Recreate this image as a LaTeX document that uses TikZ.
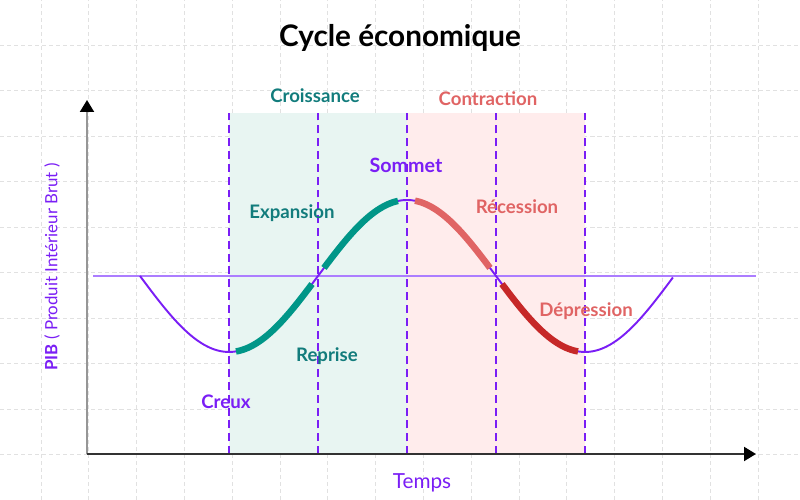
\documentclass[tikz,border=0pt]{standalone}
\usepackage{fontspec}
\setmainfont{Lato}
\usepackage{tikz}
\usetikzlibrary{arrows.meta}
\definecolor{cyclepurple}{RGB}{122,30,245}
\definecolor{midpurple}{RGB}{172,125,255}
\definecolor{growthteal}{RGB}{0,150,136}
\definecolor{growthtext}{RGB}{18,124,124}
\definecolor{contractred}{RGB}{224,100,100}
\definecolor{depressred}{RGB}{198,40,40}
\definecolor{growthbg}{RGB}{232,245,242}
\definecolor{contractbg}{RGB}{255,236,236}
\definecolor{gridgray}{RGB}{225,225,225}
\definecolor{axisgray}{RGB}{150,150,150}
\definecolor{axisdark}{RGB}{50,50,50}

\begin{document}
\begin{tikzpicture}[scale=1.0,
  phaselabel/.style={font=\fontsize{10.6}{12}\selectfont\bfseries},
  phaseline/.style={cyclepurple,line width=1.1pt,dash pattern=on 4.5pt off 2.8pt},
  thickseg/.style={line width=3.7pt,domain=#1,samples=40}]
  \useasboundingbox (0,0) rectangle (16,10);

  % ── Background grid ──
  \foreach \i in {0,...,15}
    \draw[gridgray,line width=0.5pt,dash pattern=on 2.3pt off 1.7pt] ({0.82+0.956*\i},0) -- ({0.82+0.956*\i},10);
  \foreach \j in {1,...,10}
    \draw[gridgray,line width=0.5pt,dash pattern=on 2.3pt off 1.7pt] (0,{10-0.909*\j}) -- (16,{10-0.909*\j});

  % ── Phase bands ──
  \fill[growthbg] (4.58,0.92) rectangle (8.14,7.74);
  \fill[contractbg] (8.14,0.92) rectangle (11.70,7.74);

  % ── Phase boundaries ──
  \foreach \x in {4.58,6.36,8.14,9.92,11.70}
    \draw[phaseline] (\x,0.92) -- (\x,7.74);

  % ── Axes ──
  \draw[axisgray,line width=1.1pt,-{Triangle[length=0.24cm,width=0.28cm,color=black]}] (1.74,0.92) -- (1.74,8.0);
  \draw[axisdark,line width=1.1pt,-{Triangle[length=0.24cm,width=0.28cm,color=black]}] (1.74,0.92) -- (15.12,0.92);

  % ── Trend line ──
  \draw[midpurple,line width=0.8pt] (1.86,4.48) -- (15.12,4.48);

  % ── Business cycle ──
  \draw[cyclepurple,line width=1.1pt,domain=2.8:13.46,samples=160]
       plot (\x,{4.48-1.52*cos(180*(\x-4.58)/3.56)});
  \draw[growthteal,thickseg=4.72:6.24] plot (\x,{4.48-1.52*cos(180*(\x-4.58)/3.56)});
  \draw[growthteal,thickseg=6.48:7.96] plot (\x,{4.48-1.52*cos(180*(\x-4.58)/3.56)});
  \draw[contractred,thickseg=8.30:9.80] plot (\x,{4.48-1.52*cos(180*(\x-4.58)/3.56)});
  \draw[depressred,thickseg=10.04:11.56] plot (\x,{4.48-1.52*cos(180*(\x-4.58)/3.56)});

  % ── Labels ──
  \node[font=\fontsize{16.9}{19}\selectfont\bfseries] (title) at (8,9.24) {Cycle économique};
  \node[phaselabel,growthtext] (croissance) at (6.30,8.08) {Croissance};
  \node[phaselabel,contractred] (contraction) at (9.76,8.02) {Contraction};
  \node[phaselabel,cyclepurple,font=\fontsize{11.2}{13}\selectfont\bfseries] (sommet) at (8.12,6.70) {Sommet};
  \node[phaselabel,growthtext] (expansion) at (5.84,5.74) {Expansion};
  \node[phaselabel,contractred] (recession) at (10.34,5.86) {Récession};
  \node[phaselabel,growthtext] (reprise) at (6.54,2.88) {Reprise};
  \node[phaselabel,contractred] (depression) at (11.72,3.78) {Dépression};
  \node[phaselabel,cyclepurple] (creux) at (4.52,1.96) {Creux};
  \node[cyclepurple,font=\fontsize{11.8}{14}\selectfont] (temps) at (8.44,0.34) {Temps};
  \node[cyclepurple,rotate=90,font=\fontsize{9.6}{11}\selectfont] (pib) at (1.04,4.66) {\textbf{PIB} ( Produit Intérieur Brut )};
\end{tikzpicture}
\end{document}
